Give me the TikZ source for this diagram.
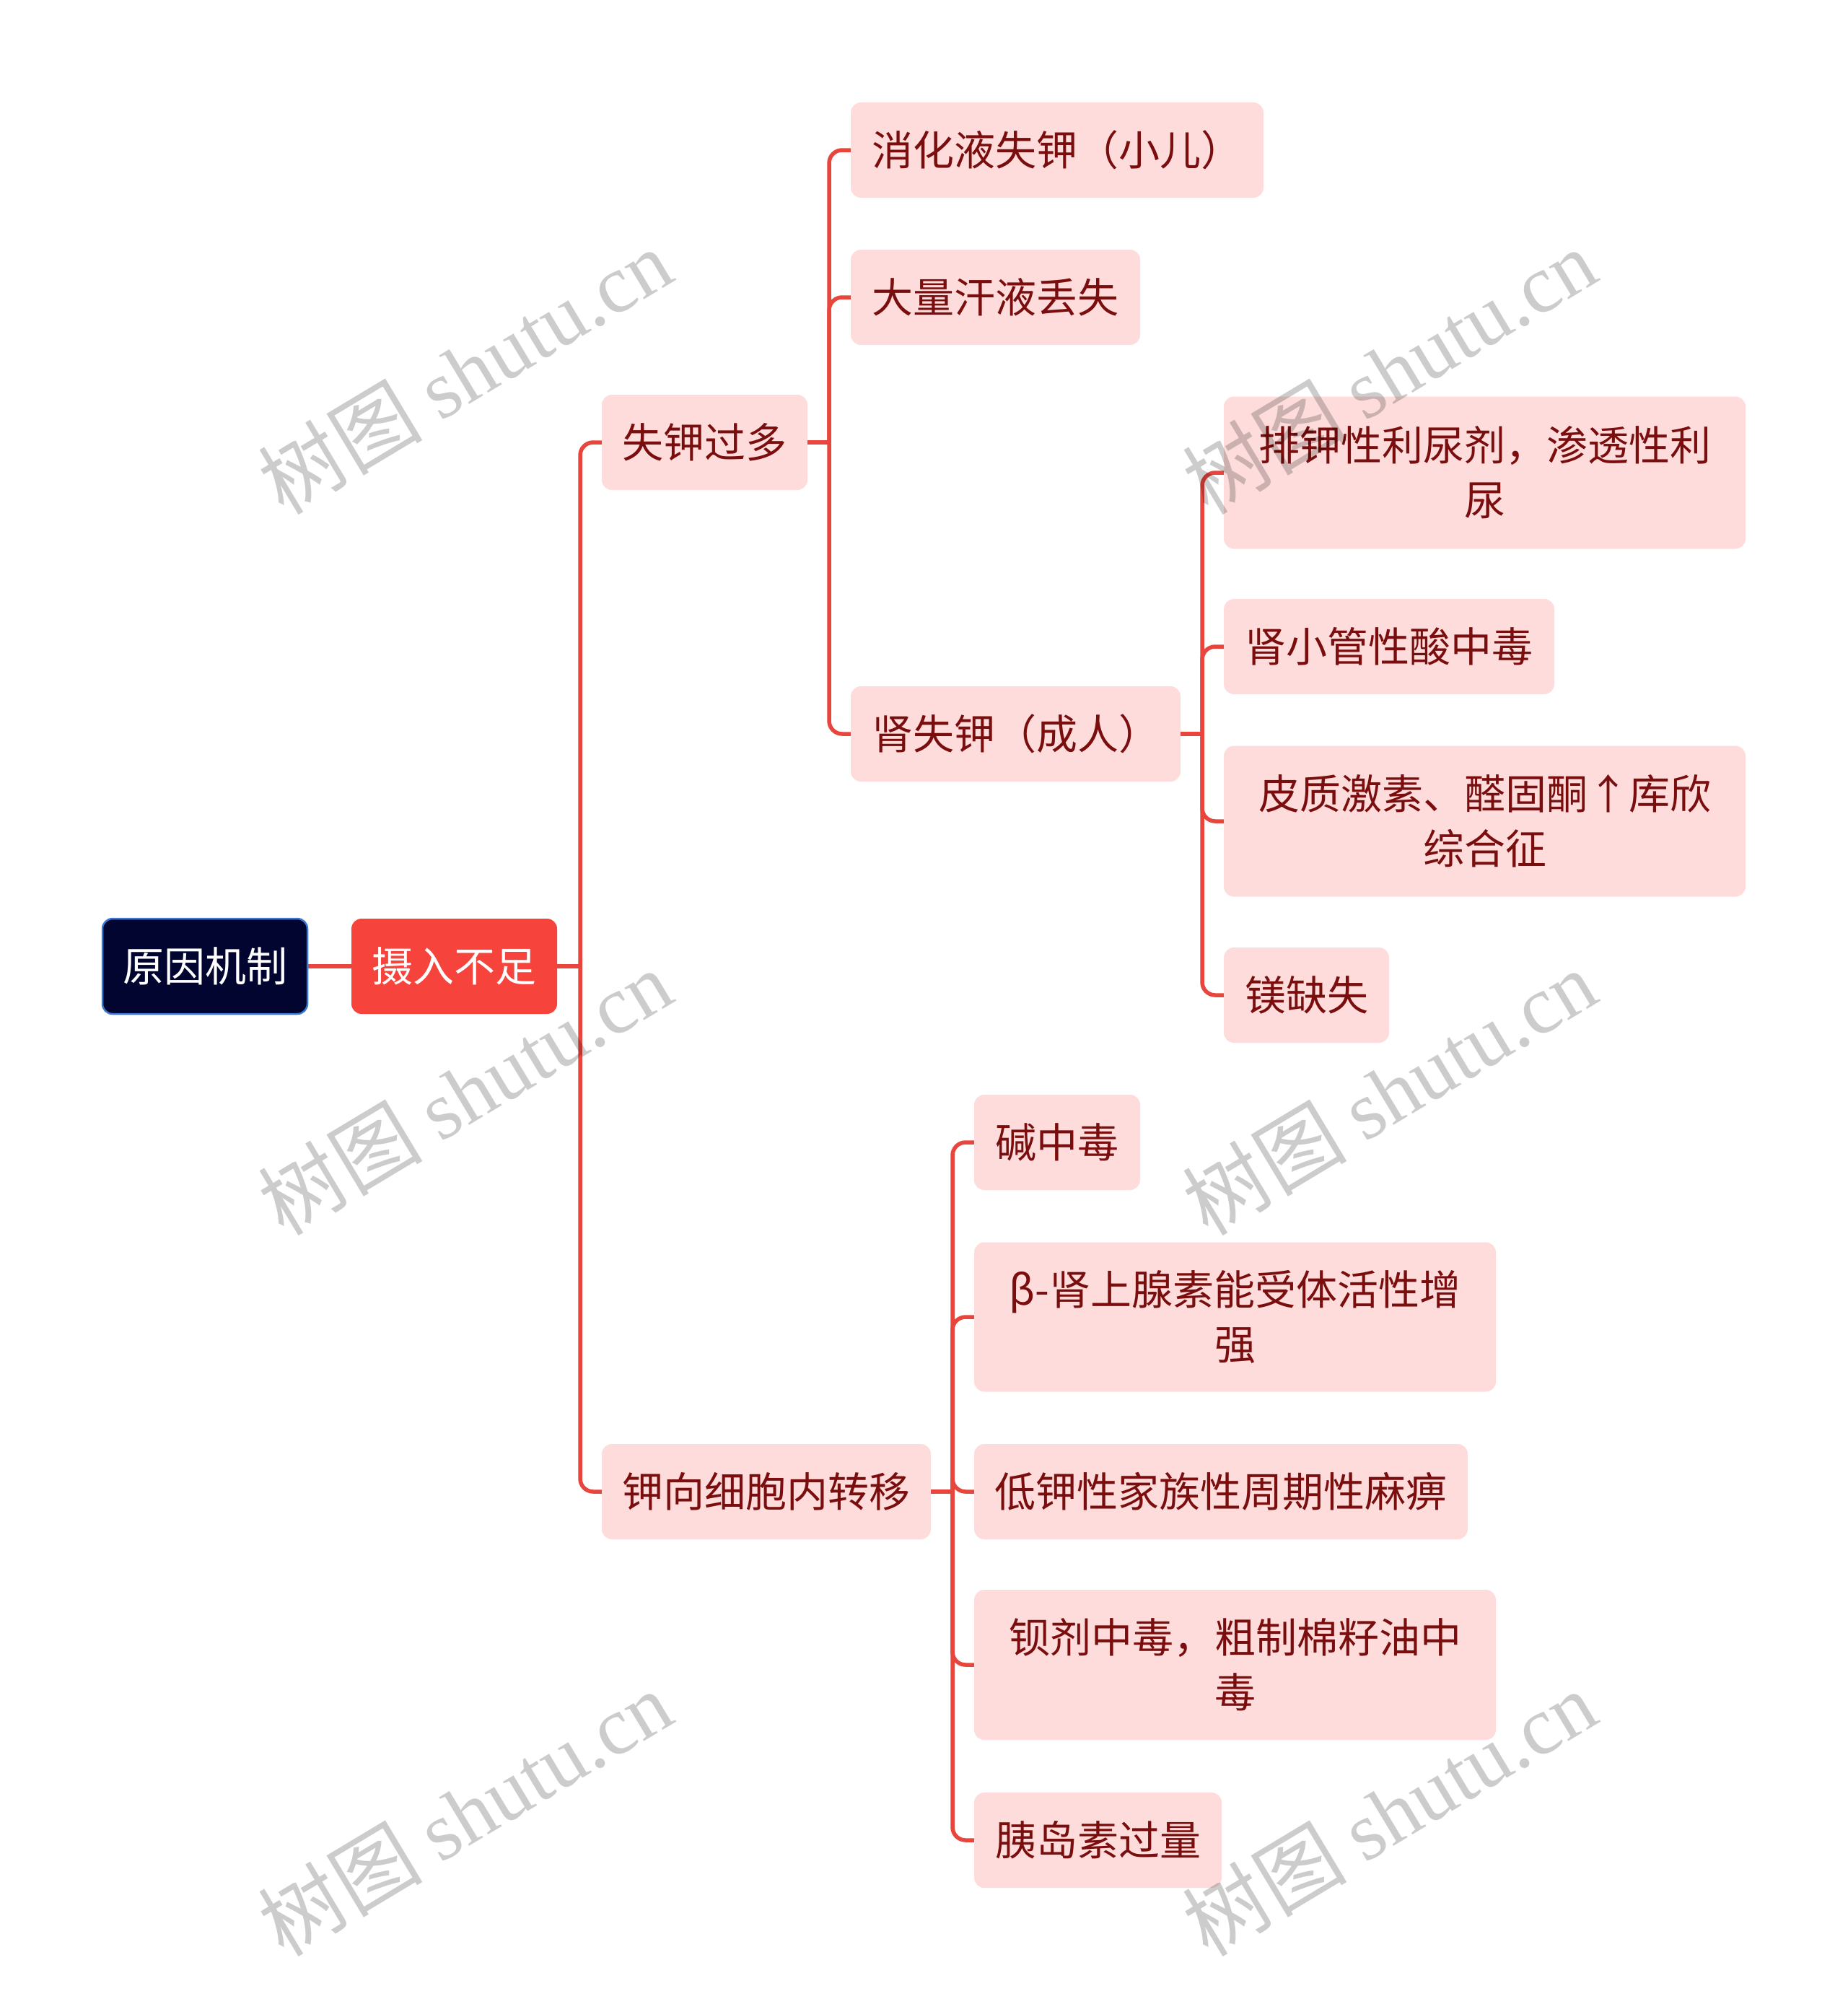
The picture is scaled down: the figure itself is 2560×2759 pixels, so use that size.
\documentclass[tikz,border=0pt]{standalone}
\usepackage{fontspec}
\setmainfont{Noto Sans CJK SC}
\newfontfamily\wmserif{Liberation Serif}
\definecolor{leaffill}{HTML}{FDDCDB}
\definecolor{leaftext}{HTML}{7A0D0D}
\definecolor{linecol}{HTML}{E8453C}
\definecolor{rootfill}{HTML}{020530}
\definecolor{rootedge}{HTML}{3A78D2}
\definecolor{midfill}{HTML}{F6433B}
\tikzset{
  boxbase/.style={rounded corners=14pt, inner sep=0pt, align=center, minimum height=132pt, font=\fontsize{57}{76}\selectfont},
  leaf/.style={boxbase, fill=leaffill, text=leaftext},
  rootbox/.style={boxbase, fill=rootfill, draw=rootedge, line width=2.5pt, text=white},
  midbox/.style={boxbase, fill=midfill, text=white},
  conn/.style={draw=linecol, line width=5.5pt, rounded corners=18pt},
  stub/.style={draw=linecol, line width=5.5pt},
  wm/.style={rotate=31, text=black, opacity=0.2, font=\fontsize{114}{114}\selectfont},
}
\begin{document}
\begin{tikzpicture}[x=1pt, y=-1pt]
\useasboundingbox (0,0) rectangle (2560,2759);
\fill[white] (0,0) rectangle (2560,2759);

% nodes
\node[rootbox, minimum width=284pt] (root) at (284,1339) {原因机制};
\node[midbox, minimum width=285pt] (mid) at (629.5,1339) {摄入不足};

\node[leaf, minimum width=285pt] (shi) at (976.5,613) {失钾过多};
\node[leaf, minimum width=456pt] (zhuan) at (1062,2067) {钾向细胞内转移};

\node[leaf, minimum width=572pt] (xiaohua) at (1465,208) {消化液失钾（小儿）};
\node[leaf, minimum width=401pt] (hanye) at (1379.5,412) {大量汗液丢失};
\node[leaf, minimum width=457pt] (shen) at (1407.5,1017) {肾失钾（成人）};

\node[leaf, minimum width=723pt, minimum height=211pt] (paijia) at (2057.5,655) {排钾性利尿剂，渗透性利\\尿};
\node[leaf, minimum width=458pt] (shenxiao) at (1925,896) {肾小管性酸中毒};
\node[leaf, minimum width=723pt, minimum height=209pt] (pizhi) at (2057.5,1138) {皮质激素、醛固酮↑库欣\\综合征};
\node[leaf, minimum width=229pt] (mei) at (1810.5,1379) {镁缺失};

\node[leaf, minimum width=230pt] (jian) at (1465,1583) {碱中毒};
\node[leaf, minimum width=723pt, minimum height=207pt] (beta) at (1711.5,1825) {β-肾上腺素能受体活性增\\强};
\node[leaf, minimum width=684pt] (dijia) at (1692,2067) {低钾性家族性周期性麻痹};
\node[leaf, minimum width=723pt, minimum height=208pt] (bei) at (1711.5,2307) {钡剂中毒，粗制棉籽油中\\毒};
\node[leaf, minimum width=343pt] (yidao) at (1521.5,2550) {胰岛素过量};

% connectors
\draw[stub] (root.east) -- (mid.west);

\coordinate (t1) at (804,1339);
\draw[stub] (mid.east) -- (t1);
\draw[conn] (t1) |- (shi.west);
\draw[conn] (t1) |- (zhuan.west);

\coordinate (t2) at (1149,613);
\draw[stub] (shi.east) -- (t2);
\draw[conn] (t2) |- (xiaohua.west);
\draw[conn] (t2) |- (hanye.west);
\draw[conn] (t2) |- (shen.west);

\coordinate (t3) at (1666,1017);
\draw[stub] (shen.east) -- (t3);
\draw[conn] (t3) |- (paijia.west);
\draw[conn] (t3) |- (shenxiao.west);
\draw[conn] (t3) |- (pizhi.west);
\draw[conn] (t3) |- (mei.west);

\coordinate (t4) at (1320,2067);
\draw[stub] (zhuan.east) -- (t4);
\draw[conn] (t4) |- (jian.west);
\draw[conn] (t4) |- (beta.west);
\draw[conn] (t4) |- (dijia.west);
\draw[conn] (t4) |- (bei.west);
\draw[conn] (t4) |- (yidao.west);

% watermarks
\foreach \wx/\wy [count=\i] in {644/514, 1925/514, 644/1513, 1925/1513, 644/2512, 1925/2512}{
  \node[wm] (wm\i) at (\wx,\wy) {树图 {\wmserif shutu.cn}};
}
\end{tikzpicture}
\end{document}
